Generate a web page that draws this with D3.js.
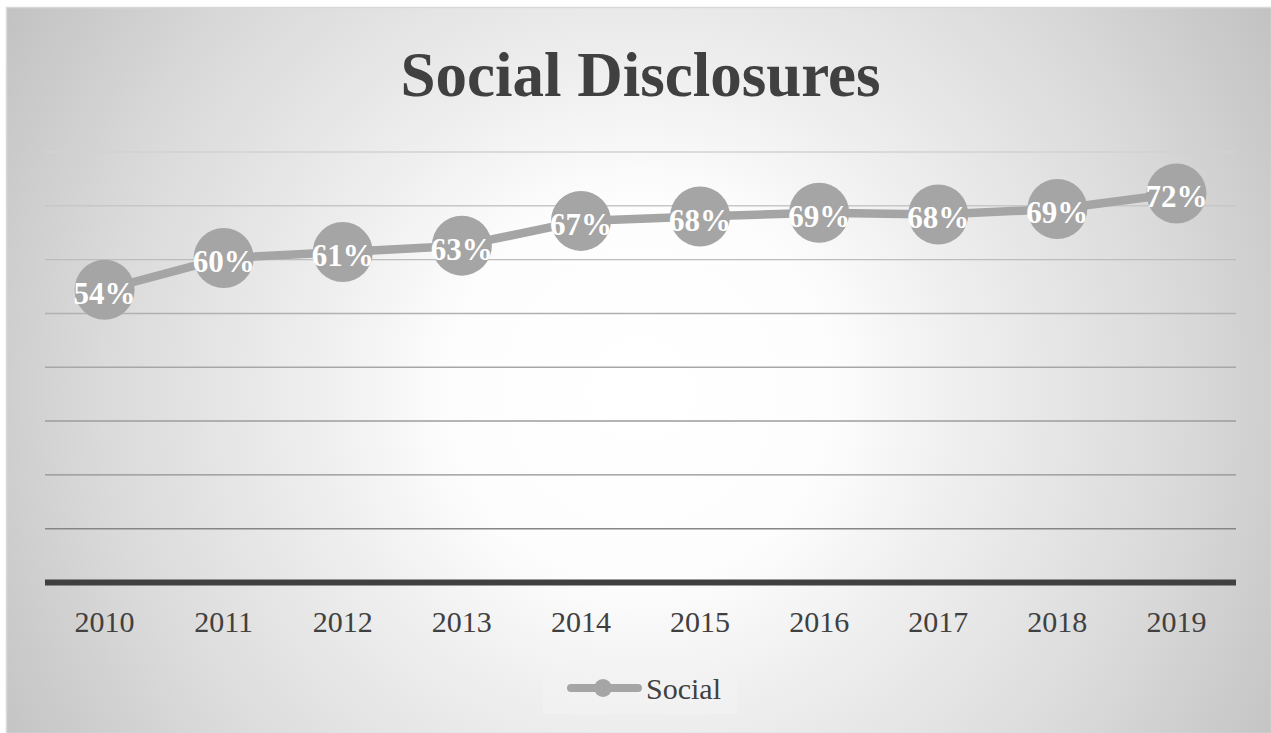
<!DOCTYPE html>
<html>
<head>
<meta charset="utf-8">
<script src="https://cdn.jsdelivr.net/npm/d3@7"></script>
<style>
  html, body { margin: 0; padding: 0; background: #ffffff; }
  svg { display: block; }
</style>
</head>
<body>
<script>
// ---- data ----
const years = ['2010', '2011', '2012', '2013', '2014', '2015', '2016', '2017', '2018', '2019'];
const socialValues = [54.4, 60.3, 61.4, 62.6, 67.2, 68.0, 68.7, 68.4, 69.4, 72.3];
const yTicks = [0, 10, 20, 30, 40, 50, 60, 70, 80];
const seriesName = 'Social';
const chartTitle = 'Social Disclosures';

const W = 1271, H = 733;
const svg = d3.select('body').append('svg').attr('width', W).attr('height', H);

// background radial gradient
const defs = svg.append('defs');
const rg = defs.append('radialGradient').attr('id', 'bg')
  .attr('gradientUnits', 'userSpaceOnUse')
  .attr('cx', 640).attr('cy', 390).attr('r', 740);
[[0, '#ffffff'], [0.26, '#fdfdfd'], [0.42, '#f0f0f0'], [0.73, '#dadada'], [0.84, '#d0d0d0'], [1, '#c2c2c2']]
  .forEach(([o, c]) => rg.append('stop').attr('offset', o).attr('stop-color', c));

svg.append('rect').attr('x', 6.5).attr('y', 7.5).attr('width', W - 6).attr('height', H - 7)
  .attr('fill', 'url(#bg)').attr('stroke', '#d9d9d9').attr('stroke-width', 1.5);

// scales
const x = d3.scaleBand().domain(years).range([45, 1236]);
const y = d3.scaleLinear().domain([0, 80]).range([582.5, 152]);
const cx = d => x(d) + x.bandwidth() / 2;

// gridlines (darker toward bottom)
const gridColor = d3.scaleLinear().domain([80, 10]).range(['#d2d2d2', '#868686']);
svg.append('g').selectAll('line')
  .data(yTicks.filter(t => t > 0))
  .join('line')
  .attr('x1', 45).attr('x2', 1236)
  .attr('y1', d => y(d)).attr('y2', d => y(d))
  .attr('stroke', d => gridColor(d)).attr('stroke-width', 1.4);

// x axis
const xAxis = svg.append('g').attr('transform', `translate(0,${y(0)})`)
  .call(d3.axisBottom(x).tickSize(0).tickPadding(0));
xAxis.select('.domain').remove();
svg.append('line').attr('x1', 45).attr('x2', 1236).attr('y1', y(0)).attr('y2', y(0))
  .attr('stroke', '#404040').attr('stroke-width', 6);
xAxis.selectAll('text')
  .attr('dy', 0).attr('y', 49)
  .attr('font-family', '"Liberation Serif", "Times New Roman", serif')
  .attr('font-size', 30).attr('fill', '#404040');

// title
svg.append('text').attr('x', 640.5).attr('y', 96)
  .attr('text-anchor', 'middle')
  .attr('font-family', '"Liberation Serif", "Times New Roman", serif')
  .attr('font-weight', 'bold').attr('font-size', 63).attr('fill', '#404040')
  .text(chartTitle);

// line
const data = years.map((yr, i) => ({ yr, v: socialValues[i] }));
svg.append('path').datum(data)
  .attr('fill', 'none').attr('stroke', '#a5a5a5').attr('stroke-width', 8.5)
  .attr('stroke-linejoin', 'round')
  .attr('d', d3.line().x(d => cx(d.yr)).y(d => y(d.v)));

// markers
svg.append('g').selectAll('circle').data(data).join('circle')
  .attr('cx', d => cx(d.yr)).attr('cy', d => y(d.v)).attr('r', 30)
  .attr('fill', '#a5a5a5');

// labels
svg.append('g').selectAll('text').data(data).join('text')
  .attr('x', d => cx(d.yr)).attr('y', d => y(d.v) + 14)
  .attr('text-anchor', 'middle')
  .attr('font-family', '"Liberation Serif", "Times New Roman", serif')
  .attr('font-weight', 'bold').attr('font-size', 31).attr('fill', '#ffffff')
  .text(d => Math.round(d.v) + '%');

// legend
const lg = svg.append('g');
lg.append('rect').attr('x', 543).attr('y', 660).attr('width', 194).attr('height', 54)
  .attr('fill', '#f2f2f2').attr('fill-opacity', 0.7);
lg.append('line').attr('x1', 571).attr('x2', 638).attr('y1', 688).attr('y2', 688)
  .attr('stroke', '#a5a5a5').attr('stroke-width', 8).attr('stroke-linecap', 'round');
lg.append('circle').attr('cx', 603).attr('cy', 688).attr('r', 9).attr('fill', '#a5a5a5');
lg.append('text').attr('x', 646).attr('y', 699)
  .attr('font-family', '"Liberation Serif", "Times New Roman", serif')
  .attr('font-size', 30).attr('fill', '#404040').text(seriesName);
</script>
</body>
</html>
